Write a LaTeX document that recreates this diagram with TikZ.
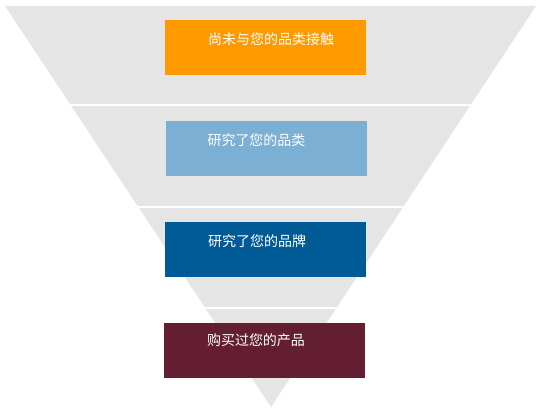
\documentclass[tikz,border=0pt]{standalone}
\usepackage{fontspec}
\newfontfamily\cjk{Noto Sans CJK SC}
\usepackage{tikz}
\usetikzlibrary{positioning, calc}
\definecolor{cFunnel}{RGB}{229,229,229}
\definecolor{cOrange}{RGB}{255,153,0}
\definecolor{cLight}{RGB}{123,175,212}
\definecolor{cDark}{RGB}{0,90,150}
\definecolor{cWine}{RGB}{100,30,50}

\begin{document}
\begin{tikzpicture}[x=1pt, y=-1pt,
    stage/.style={minimum width=201pt, minimum height=55pt, inner sep=0pt, draw=none},
    caption/.style={anchor=west, text=white, inner sep=0pt, font=\cjk\fontsize{14}{16}\selectfont}]

    \useasboundingbox (0,0) rectangle (542,411);

    % --- Funnel ---
    \fill[cFunnel] (5,6) -- (536,6) -- (271,407) -- cycle;

    % White gaps between the funnel levels
    \foreach \y in {105, 207, 308} {
        \draw[white, line width=2pt] (0,\y) -- (542,\y);
    }

    % --- Level boxes ---
    \node[stage, fill=cOrange] (s1) at (265.5,47.5) {};
    \node[stage, fill=cLight] (s2) at (266,148.5) {};
    \node[stage, fill=cDark] (s3) at (265.5,250) {};
    \node[stage, fill=cWine] (s4) at (264.5,350.5) {};

    % Captions inside the boxes
    \node[caption] (c1) at ([xshift=43pt, yshift=-19pt]s1.north west) {尚未与您的品类接触};
    \node[caption] (c2) at ([xshift=42pt, yshift=-19pt]s2.north west) {研究了您的品类};
    \node[caption] (c3) at ([xshift=43pt, yshift=-19pt]s3.north west) {研究了您的品牌};
    \node[caption] (c4) at ([xshift=43pt, yshift=-17pt]s4.north west) {购买过您的产品};

\end{tikzpicture}
\end{document}
